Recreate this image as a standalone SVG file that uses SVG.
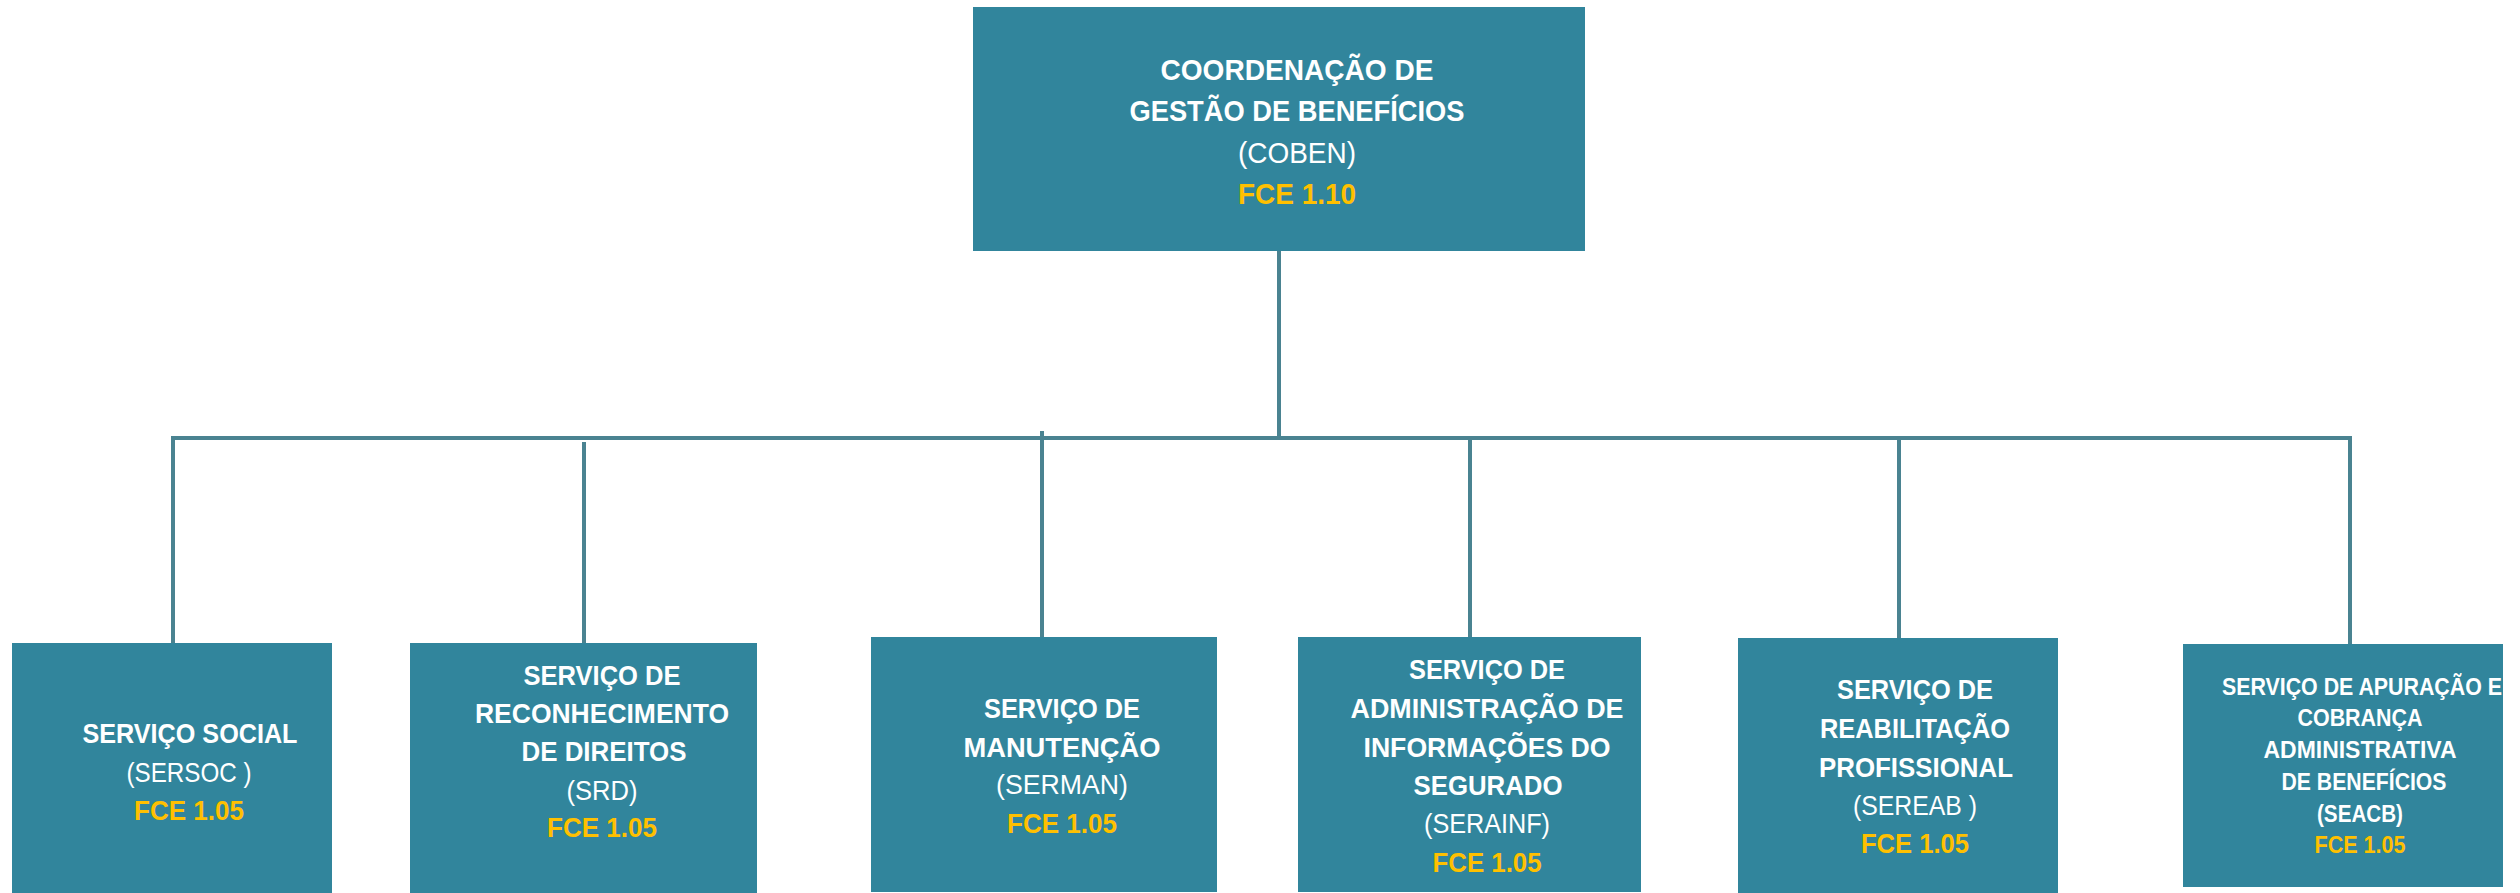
<svg xmlns="http://www.w3.org/2000/svg" width="2520" height="893" viewBox="0 0 2520 893">
<style>
.box{fill:#31859C}
.ln{stroke:#4A8391;stroke-width:4;fill:none}
text{font-family:"Liberation Sans",Arial,sans-serif;fill:#FFFFFF;text-anchor:middle}
.b{font-weight:bold}
.y{fill:#FFC000;font-weight:bold}
.t{font-size:30px}
.m{font-size:28px}
.s{font-size:23px}
</style>
<defs>
<clipPath id="c6"><rect x="2183" y="644" width="320" height="243"/></clipPath>
</defs>
<rect width="2520" height="893" fill="#FFFFFF"/>
<g id="connectors">
<line class="ln" x1="1279" y1="250" x2="1279" y2="438"/>
<line class="ln" x1="171" y1="438" x2="2352" y2="438" stroke-width="4.5"/>
<line class="ln" x1="173" y1="438" x2="173" y2="643"/>
<line class="ln" x1="584" y1="442" x2="584" y2="643"/>
<line class="ln" x1="1042" y1="431" x2="1042" y2="637"/>
<line class="ln" x1="1470" y1="438" x2="1470" y2="637"/>
<line class="ln" x1="1899" y1="438" x2="1899" y2="638"/>
<line class="ln" x1="2350" y1="438" x2="2350" y2="644"/>
</g>
<g id="coben">
<rect class="box" x="973" y="7" width="612" height="244"/>
<text class="t b" x="1297" y="80" textLength="273" lengthAdjust="spacingAndGlyphs">COORDENAÇÃO DE</text>
<text class="t b" x="1297" y="121" textLength="335" lengthAdjust="spacingAndGlyphs">GESTÃO DE BENEFÍCIOS</text>
<text class="t" x="1297" y="163" textLength="118" lengthAdjust="spacingAndGlyphs">(COBEN)</text>
<text class="t y" x="1297" y="204" textLength="118" lengthAdjust="spacingAndGlyphs">FCE 1.10</text>
</g>
<g id="sersoc">
<rect class="box" x="12" y="643" width="320" height="250"/>
<text class="m b" x="190" y="743" textLength="215" lengthAdjust="spacingAndGlyphs">SERVIÇO SOCIAL</text>
<text class="m" x="189" y="782" textLength="125" lengthAdjust="spacingAndGlyphs">(SERSOC )</text>
<text class="m y" x="189" y="820" textLength="110" lengthAdjust="spacingAndGlyphs">FCE 1.05</text>
</g>
<g id="srd">
<rect class="box" x="410" y="643" width="347" height="250"/>
<text class="m b" x="602" y="685" textLength="157" lengthAdjust="spacingAndGlyphs">SERVIÇO DE</text>
<text class="m b" x="602" y="723" textLength="254" lengthAdjust="spacingAndGlyphs">RECONHECIMENTO</text>
<text class="m b" x="604" y="761" textLength="165" lengthAdjust="spacingAndGlyphs">DE DIREITOS</text>
<text class="m" x="602" y="800" textLength="71" lengthAdjust="spacingAndGlyphs">(SRD)</text>
<text class="m y" x="602" y="837" textLength="110" lengthAdjust="spacingAndGlyphs">FCE 1.05</text>
</g>
<g id="serman">
<rect class="box" x="871" y="637" width="346" height="255"/>
<text class="m b" x="1062" y="718" textLength="156" lengthAdjust="spacingAndGlyphs">SERVIÇO DE</text>
<text class="m b" x="1062" y="757" textLength="197" lengthAdjust="spacingAndGlyphs">MANUTENÇÃO</text>
<text class="m" x="1062" y="794" textLength="132" lengthAdjust="spacingAndGlyphs">(SERMAN)</text>
<text class="m y" x="1062" y="833" textLength="110" lengthAdjust="spacingAndGlyphs">FCE 1.05</text>
</g>
<g id="serainf">
<rect class="box" x="1298" y="637" width="343" height="255"/>
<text class="m b" x="1487" y="679" textLength="156" lengthAdjust="spacingAndGlyphs">SERVIÇO DE</text>
<text class="m b" x="1487" y="718" textLength="273" lengthAdjust="spacingAndGlyphs">ADMINISTRAÇÃO DE</text>
<text class="m b" x="1487" y="757" textLength="247" lengthAdjust="spacingAndGlyphs">INFORMAÇÕES DO</text>
<text class="m b" x="1488" y="795" textLength="149" lengthAdjust="spacingAndGlyphs">SEGURADO</text>
<text class="m" x="1487" y="833" textLength="126" lengthAdjust="spacingAndGlyphs">(SERAINF)</text>
<text class="m y" x="1487" y="872" textLength="109" lengthAdjust="spacingAndGlyphs">FCE 1.05</text>
</g>
<g id="sereab">
<rect class="box" x="1738" y="638" width="320" height="255"/>
<text class="m b" x="1915" y="699" textLength="156" lengthAdjust="spacingAndGlyphs">SERVIÇO DE</text>
<text class="m b" x="1915" y="738" textLength="190" lengthAdjust="spacingAndGlyphs">REABILITAÇÃO</text>
<text class="m b" x="1916" y="777" textLength="194" lengthAdjust="spacingAndGlyphs">PROFISSIONAL</text>
<text class="m" x="1915" y="815" textLength="124" lengthAdjust="spacingAndGlyphs">(SEREAB )</text>
<text class="m y" x="1915" y="853" textLength="108" lengthAdjust="spacingAndGlyphs">FCE 1.05</text>
</g>
<g id="seacb">
<rect class="box" x="2183" y="644" width="320" height="243"/>
<g clip-path="url(#c6)">
<text class="s b" x="2362" y="695" textLength="280" lengthAdjust="spacingAndGlyphs">SERVIÇO DE APURAÇÃO E</text>
</g>
<text class="s b" x="2360" y="726" textLength="125" lengthAdjust="spacingAndGlyphs">COBRANÇA</text>
<text class="s b" x="2360" y="758" textLength="193" lengthAdjust="spacingAndGlyphs">ADMINISTRATIVA</text>
<text class="s b" x="2364" y="790" textLength="165" lengthAdjust="spacingAndGlyphs">DE BENEFÍCIOS</text>
<text class="s b" x="2360" y="822" textLength="86" lengthAdjust="spacingAndGlyphs">(SEACB)</text>
<text class="s y" x="2360" y="853" textLength="91" lengthAdjust="spacingAndGlyphs">FCE 1.05</text>
</g>
</svg>
